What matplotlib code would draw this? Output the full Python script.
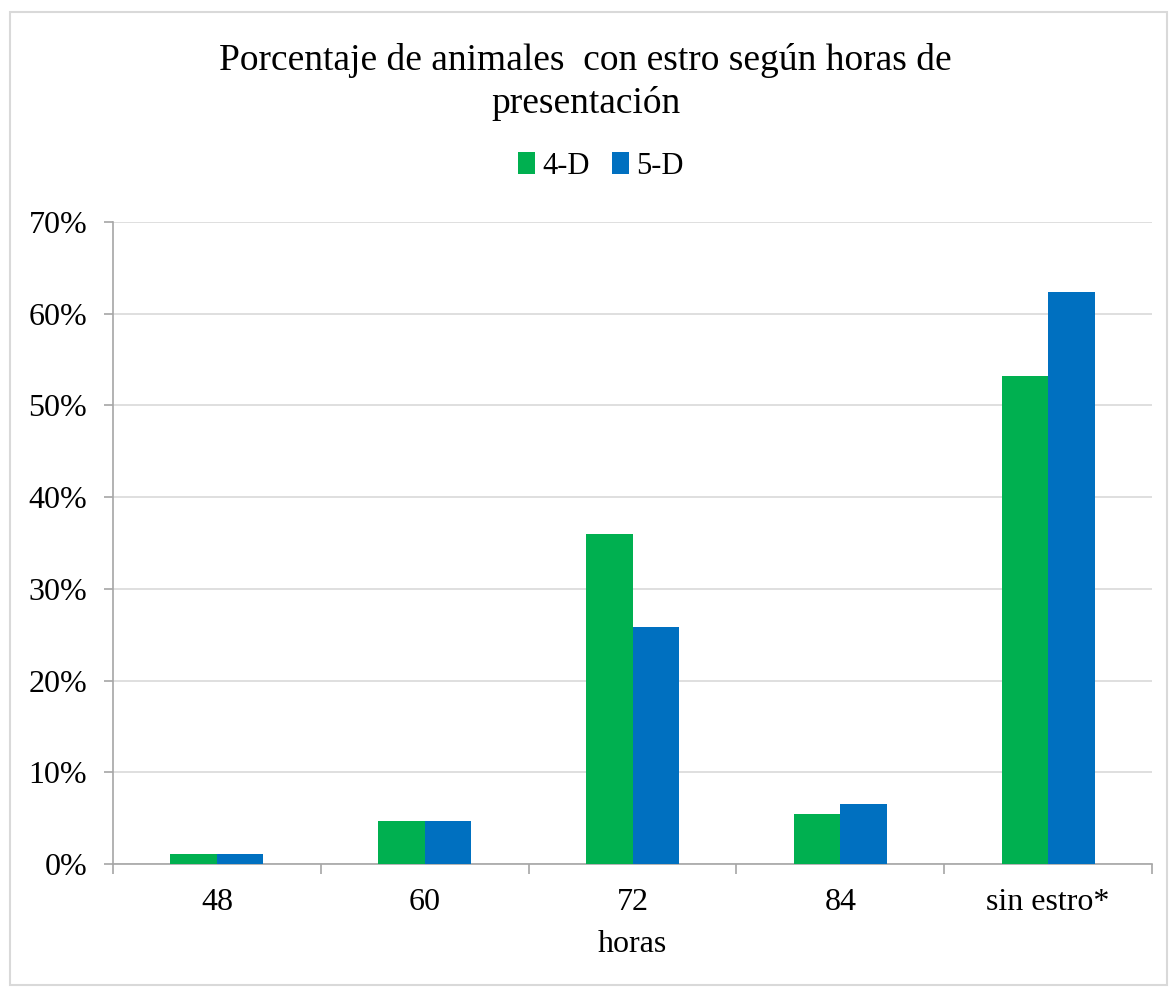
import numpy as np
import matplotlib.pyplot as plt
from matplotlib.patches import Rectangle
from matplotlib.ticker import PercentFormatter

plt.rcParams['font.family'] = ['Liberation Serif', 'DejaVu Serif']

# Datos: porcentaje de animales con estro por hora de presentación
categorias = ['48', '60', '72', '84', 'sin estro*']
grupo_4d = [1.1, 4.7, 36.0, 5.5, 53.2]
grupo_5d = [1.1, 4.7, 25.8, 6.5, 62.4]
series = ['4-D', '5-D']
colores = ['#00b050', '#0070c0']

fig = plt.figure(figsize=(11.71, 9.89), dpi=100)
ax = fig.add_axes([113 / 1171, 1 - 864 / 989, (1152 - 113) / 1171, (864 - 222) / 989])

x = np.arange(len(categorias))
ancho = 0.224
ax.bar(x - ancho / 2, grupo_4d, ancho, color=colores[0], label=series[0], zorder=3)
ax.bar(x + ancho / 2, grupo_5d, ancho, color=colores[1], label=series[1], zorder=3)

ax.set_xlim(-0.5, len(categorias) - 0.5)
ax.set_ylim(0, 70)
ax.set_yticks(np.arange(0, 71, 10))
ax.yaxis.set_major_formatter(PercentFormatter(decimals=0))
ax.grid(axis='y', color='#d9d9d9', linewidth=1.2, zorder=0)

ax.set_xticks(x)
ax.set_xticklabels(categorias)
ax.set_xticks(np.arange(-0.5, len(categorias)), minor=True)
ax.tick_params(axis='x', which='major', length=0, pad=17, labelsize=23)
ax.tick_params(axis='x', which='minor', length=7, color='#a6a6a6', width=1.2)
ax.tick_params(axis='y', length=6.5, color='#a6a6a6', width=1.2, pad=12, labelsize=23)

for lado in ['top', 'right']:
    ax.spines[lado].set_visible(False)
for lado in ['left', 'bottom']:
    ax.spines[lado].set_color('#a6a6a6')
    ax.spines[lado].set_linewidth(1.2)

ax.set_xlabel('horas', fontsize=23, labelpad=10)

fig.text(0.5, 1 - 82 / 989, 'Porcentaje de animales  con estro según horas de\npresentación',
         ha='center', va='center', fontsize=27, linespacing=1.3)

fig.legend(loc='center', bbox_to_anchor=(601 / 1171, 1 - 166 / 989), ncol=2, frameon=False,
           fontsize=22, handlelength=0.55, handleheight=0.75, handletextpad=0.25,
           columnspacing=0.7)

# marco exterior del gráfico
fig.patches.append(Rectangle((10 / 1171, 4 / 989), 1157 / 1171, 973 / 989,
                             transform=fig.transFigure, fill=False,
                             edgecolor='#d9d9d9', linewidth=1.5))

fig.savefig('out.png', dpi=100)
